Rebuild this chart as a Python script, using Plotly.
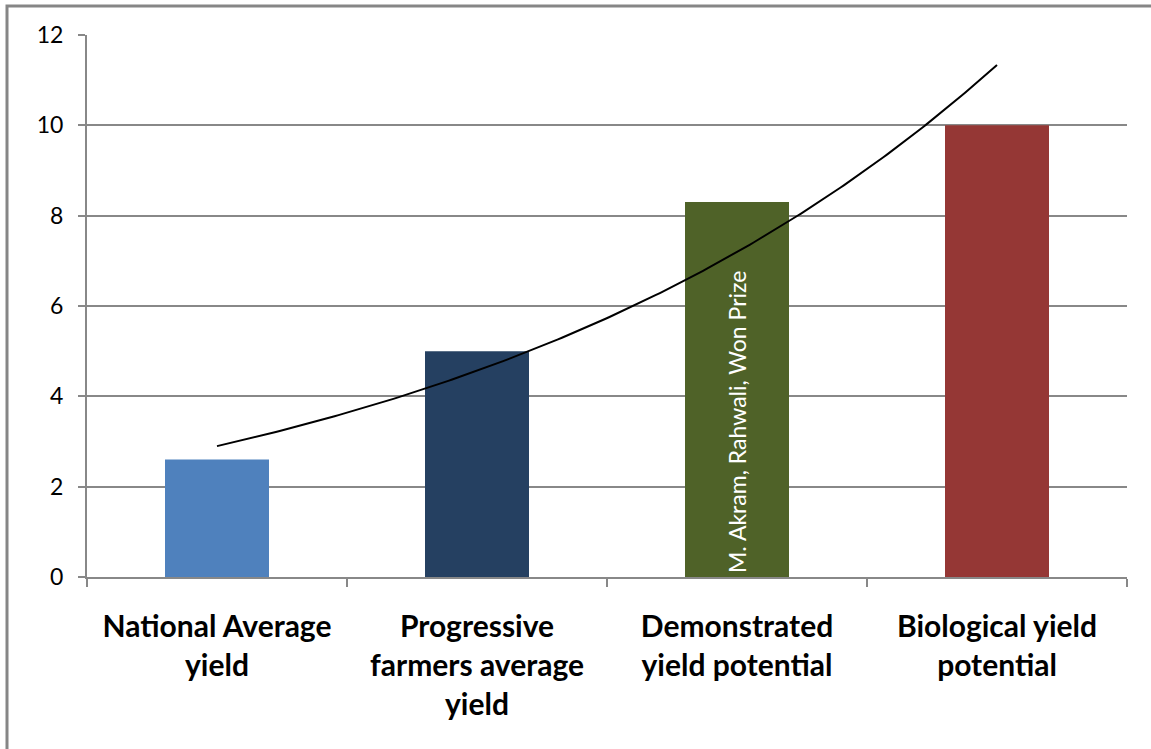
import numpy as np
import plotly.graph_objects as go

# Yield categories and values
categories = [
    "National Average<br>yield",
    "Progressive<br>farmers average<br>yield",
    "Demonstrated<br>yield potential",
    "Biological yield<br>potential",
]
yields = [2.6, 5.0, 8.3, 10.0]
bar_colors = ["#4F81BD", "#254061", "#4F6228", "#953735"]
note_category = categories[2]
note_text = "M. Akram, Rahwali, Won Prize"
y_ticks = [0, 2, 4, 6, 8, 10, 12]

# Exponential trendline fitted to the yields (y = a * exp(b * x), x = 1..n)
xi = np.arange(1, len(yields) + 1)
b, ln_a = np.polyfit(xi, np.log(yields), 1)
xs = np.linspace(1, len(yields), 200)
ys = np.exp(ln_a) * np.exp(b * xs)

font_family = "Lato, 'Open Sans', Arial, sans-serif"

fig = go.Figure()
fig.add_trace(go.Bar(
    x=categories, y=yields,
    marker=dict(color=bar_colors, line=dict(width=0)),
    width=0.4,
    showlegend=False,
    hoverinfo="x+y",
))
fig.add_trace(go.Scatter(
    x=xs, y=ys, xaxis="x2", mode="lines",
    line=dict(color="black", width=2),
    showlegend=False, hoverinfo="skip",
))

# Vertical note written inside the third bar
fig.add_annotation(
    x=note_category, y=0, xref="x", yref="y",
    text=note_text, textangle=-90, showarrow=False,
    xanchor="center", yanchor="bottom", yshift=2,
    font=dict(family=font_family, size=23, color="white"),
)

grid_col = "#888888"
fig.update_layout(
    width=1151, height=749,
    margin=dict(l=87, r=24, t=35, b=172),
    paper_bgcolor="white", plot_bgcolor="white",
    font=dict(family=font_family, color="black"),
    xaxis=dict(
        type="category",
        tickson="boundaries",
        ticks="outside", ticklen=8, tickwidth=2, tickcolor=grid_col,
        showline=True, linecolor=grid_col, linewidth=2,
        showgrid=False,
        tickfont=dict(size=30, family=font_family, color="black", weight="bold"),
        ticklabelstandoff=22,
    ),
    xaxis2=dict(
        overlaying="x", range=[0.5, len(yields) + 0.5],
        visible=False,
    ),
    yaxis=dict(
        range=[0, 12], tickvals=y_ticks,
        ticks="outside", ticklen=7, tickwidth=2, tickcolor=grid_col,
        showline=True, linecolor=grid_col, linewidth=2,
        showgrid=True, gridcolor=grid_col, gridwidth=2,
        zeroline=False,
        tickfont=dict(size=23, family=font_family, color="black"),
        ticklabelstandoff=10,
    ),
    shapes=[dict(
        type="rect", xref="paper", yref="paper",
        x0=(7 - 87) / 1040, x1=(1170 - 87) / 1040,
        y0=(577 - 770) / 542, y1=(577 - 6) / 542,
        line=dict(color="#868686", width=3),
        fillcolor="rgba(0,0,0,0)", layer="below",
    )],
)

fig.write_html("out.html")
